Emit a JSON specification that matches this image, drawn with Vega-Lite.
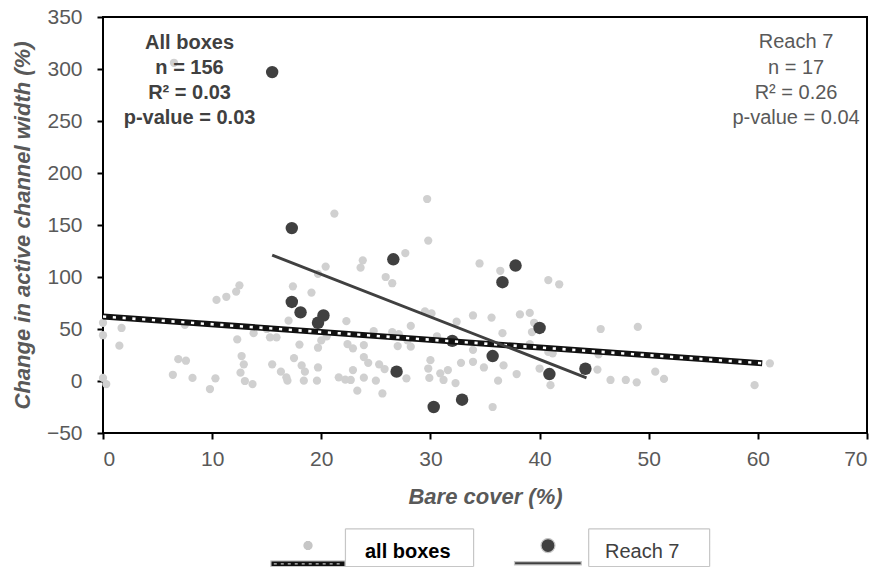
{
  "$schema": "https://vega.github.io/schema/vega-lite/v6.json",
  "width": 764,
  "height": 416,
  "autosize": {"type": "none"},
  "padding": {"left": 103, "top": 17, "right": 16, "bottom": 134},
  "background": "white",
  "config": {
    "view": {"stroke": "#000", "strokeWidth": 2},
    "font": "Liberation Sans",
    "axis": {
      "grid": false, "domain": false,
      "tickColor": "#000", "tickWidth": 2, "tickSize": 6,
      "labelColor": "#595959", "labelFontSize": 21, "labelFont": "Liberation Sans",
      "titleColor": "#595959", "titleFontSize": 22, "titleFontWeight": "bold", "titleFontStyle": "italic", "titleFont": "Liberation Sans"
    }
  },
  "datasets": {
    "points": [
      {"bare": 6.5, "change": 306, "series": "all boxes"},
      {"bare": 21.2, "change": 161, "series": "all boxes"},
      {"bare": 20.4, "change": 110, "series": "all boxes"},
      {"bare": 19.7, "change": 103, "series": "all boxes"},
      {"bare": 17.4, "change": 91, "series": "all boxes"},
      {"bare": 19.1, "change": 85, "series": "all boxes"},
      {"bare": 12.5, "change": 92, "series": "all boxes"},
      {"bare": 12.2, "change": 86, "series": "all boxes"},
      {"bare": 11.3, "change": 81, "series": "all boxes"},
      {"bare": 10.4, "change": 78, "series": "all boxes"},
      {"bare": 29.7, "change": 175, "series": "all boxes"},
      {"bare": 29.8, "change": 135, "series": "all boxes"},
      {"bare": 27.7, "change": 123, "series": "all boxes"},
      {"bare": 23.8, "change": 116, "series": "all boxes"},
      {"bare": 23.6, "change": 109, "series": "all boxes"},
      {"bare": 25.9, "change": 100, "series": "all boxes"},
      {"bare": 26.5, "change": 94, "series": "all boxes"},
      {"bare": 34.5, "change": 113, "series": "all boxes"},
      {"bare": 36.4, "change": 106, "series": "all boxes"},
      {"bare": 40.8, "change": 97, "series": "all boxes"},
      {"bare": 41.8, "change": 93, "series": "all boxes"},
      {"bare": 0, "change": 56, "series": "all boxes"},
      {"bare": 0, "change": 44, "series": "all boxes"},
      {"bare": 1.7, "change": 51, "series": "all boxes"},
      {"bare": 1.5, "change": 34, "series": "all boxes"},
      {"bare": 7.5, "change": 54, "series": "all boxes"},
      {"bare": 12.3, "change": 40, "series": "all boxes"},
      {"bare": 13.8, "change": 46, "series": "all boxes"},
      {"bare": 15.0, "change": 50, "series": "all boxes"},
      {"bare": 15.3, "change": 42, "series": "all boxes"},
      {"bare": 15.9, "change": 42, "series": "all boxes"},
      {"bare": 12.7, "change": 24, "series": "all boxes"},
      {"bare": 12.9, "change": 16, "series": "all boxes"},
      {"bare": 12.6, "change": 8, "series": "all boxes"},
      {"bare": 13.0, "change": 0, "series": "all boxes"},
      {"bare": 13.7, "change": -3, "series": "all boxes"},
      {"bare": 6.9, "change": 21, "series": "all boxes"},
      {"bare": 7.6, "change": 19.5, "series": "all boxes"},
      {"bare": 6.4, "change": 6, "series": "all boxes"},
      {"bare": 8.2, "change": 3, "series": "all boxes"},
      {"bare": 10.3, "change": 2.6, "series": "all boxes"},
      {"bare": 9.8, "change": -7.7, "series": "all boxes"},
      {"bare": 0, "change": 3, "series": "all boxes"},
      {"bare": 0.3, "change": -3, "series": "all boxes"},
      {"bare": 17.0, "change": 58, "series": "all boxes"},
      {"bare": 18.0, "change": 35, "series": "all boxes"},
      {"bare": 17.5, "change": 22, "series": "all boxes"},
      {"bare": 18.2, "change": 15, "series": "all boxes"},
      {"bare": 18.5, "change": 9, "series": "all boxes"},
      {"bare": 18.4, "change": 0.3, "series": "all boxes"},
      {"bare": 15.5, "change": 16, "series": "all boxes"},
      {"bare": 16.3, "change": 9, "series": "all boxes"},
      {"bare": 16.8, "change": 3.5, "series": "all boxes"},
      {"bare": 16.9, "change": 0.3, "series": "all boxes"},
      {"bare": 19.7, "change": 13, "series": "all boxes"},
      {"bare": 19.7, "change": 32, "series": "all boxes"},
      {"bare": 20.0, "change": 39, "series": "all boxes"},
      {"bare": 20.5, "change": 43, "series": "all boxes"},
      {"bare": 19.6, "change": 0.3, "series": "all boxes"},
      {"bare": 21.6, "change": 3.5, "series": "all boxes"},
      {"bare": 22.2, "change": 1.3, "series": "all boxes"},
      {"bare": 22.3, "change": 57.5, "series": "all boxes"},
      {"bare": 22.4, "change": 35.5, "series": "all boxes"},
      {"bare": 24.8, "change": 48, "series": "all boxes"},
      {"bare": 26.5, "change": 47, "series": "all boxes"},
      {"bare": 27.1, "change": 45, "series": "all boxes"},
      {"bare": 28.2, "change": 53, "series": "all boxes"},
      {"bare": 29.5, "change": 67, "series": "all boxes"},
      {"bare": 30.1, "change": 65, "series": "all boxes"},
      {"bare": 32.4, "change": 57, "series": "all boxes"},
      {"bare": 33.9, "change": 63, "series": "all boxes"},
      {"bare": 35.6, "change": 61, "series": "all boxes"},
      {"bare": 38.2, "change": 64, "series": "all boxes"},
      {"bare": 39.1, "change": 65.5, "series": "all boxes"},
      {"bare": 39.5, "change": 56, "series": "all boxes"},
      {"bare": 39.3, "change": 47, "series": "all boxes"},
      {"bare": 36.6, "change": 46, "series": "all boxes"},
      {"bare": 30.6, "change": 43, "series": "all boxes"},
      {"bare": 22.9, "change": 31.4, "series": "all boxes"},
      {"bare": 23.9, "change": 34.5, "series": "all boxes"},
      {"bare": 23.9, "change": 23, "series": "all boxes"},
      {"bare": 24.3, "change": 17.5, "series": "all boxes"},
      {"bare": 25.3, "change": 16, "series": "all boxes"},
      {"bare": 25.8, "change": 11.5, "series": "all boxes"},
      {"bare": 22.9, "change": 10.5, "series": "all boxes"},
      {"bare": 22.7, "change": 1, "series": "all boxes"},
      {"bare": 23.9, "change": 3.2, "series": "all boxes"},
      {"bare": 25.0, "change": 0.3, "series": "all boxes"},
      {"bare": 23.3, "change": -9.3, "series": "all boxes"},
      {"bare": 25.6, "change": -12, "series": "all boxes"},
      {"bare": 27.8, "change": 2.6, "series": "all boxes"},
      {"bare": 27.0, "change": 33.6, "series": "all boxes"},
      {"bare": 28.2, "change": 33, "series": "all boxes"},
      {"bare": 27.9, "change": 39, "series": "all boxes"},
      {"bare": 30.0, "change": 20, "series": "all boxes"},
      {"bare": 29.8, "change": 12, "series": "all boxes"},
      {"bare": 29.9, "change": 3, "series": "all boxes"},
      {"bare": 30.9, "change": 7.4, "series": "all boxes"},
      {"bare": 31.6, "change": 10.5, "series": "all boxes"},
      {"bare": 31.2, "change": 1, "series": "all boxes"},
      {"bare": 32.3, "change": -2, "series": "all boxes"},
      {"bare": 32.8, "change": 17.5, "series": "all boxes"},
      {"bare": 33.9, "change": 18.5, "series": "all boxes"},
      {"bare": 33.9, "change": 30, "series": "all boxes"},
      {"bare": 34.9, "change": 13, "series": "all boxes"},
      {"bare": 36.2, "change": 0.3, "series": "all boxes"},
      {"bare": 36.7, "change": 15, "series": "all boxes"},
      {"bare": 37.9, "change": 6.7, "series": "all boxes"},
      {"bare": 35.7, "change": -25, "series": "all boxes"},
      {"bare": 39.1, "change": 35.5, "series": "all boxes"},
      {"bare": 40.8, "change": 28, "series": "all boxes"},
      {"bare": 41.2, "change": 26.6, "series": "all boxes"},
      {"bare": 40.0, "change": 12, "series": "all boxes"},
      {"bare": 41.0, "change": -4, "series": "all boxes"},
      {"bare": 45.6, "change": 50, "series": "all boxes"},
      {"bare": 49.0, "change": 52, "series": "all boxes"},
      {"bare": 45.4, "change": 25.6, "series": "all boxes"},
      {"bare": 45.3, "change": 11, "series": "all boxes"},
      {"bare": 46.5, "change": 1, "series": "all boxes"},
      {"bare": 47.9, "change": 1, "series": "all boxes"},
      {"bare": 48.9, "change": -1.3, "series": "all boxes"},
      {"bare": 50.6, "change": 9, "series": "all boxes"},
      {"bare": 51.4, "change": 2, "series": "all boxes"},
      {"bare": 59.7, "change": -4, "series": "all boxes"},
      {"bare": 61.1, "change": 17, "series": "all boxes"},
      {"bare": 15.5, "change": 297, "series": "Reach 7"},
      {"bare": 17.3, "change": 147, "series": "Reach 7"},
      {"bare": 26.6, "change": 117, "series": "Reach 7"},
      {"bare": 37.8, "change": 111, "series": "Reach 7"},
      {"bare": 36.6, "change": 95, "series": "Reach 7"},
      {"bare": 17.3, "change": 76, "series": "Reach 7"},
      {"bare": 18.1, "change": 66, "series": "Reach 7"},
      {"bare": 20.2, "change": 63, "series": "Reach 7"},
      {"bare": 19.7, "change": 56, "series": "Reach 7"},
      {"bare": 40.0, "change": 51, "series": "Reach 7"},
      {"bare": 32.0, "change": 38.6, "series": "Reach 7"},
      {"bare": 35.7, "change": 24, "series": "Reach 7"},
      {"bare": 26.9, "change": 9, "series": "Reach 7"},
      {"bare": 40.9, "change": 6.7, "series": "Reach 7"},
      {"bare": 44.2, "change": 11.8, "series": "Reach 7"},
      {"bare": 30.3, "change": -25, "series": "Reach 7"},
      {"bare": 32.9, "change": -18, "series": "Reach 7"}
    ],
    "lines": [
      {"bare": 0, "change": 62, "series": "all boxes"},
      {"bare": 60.4, "change": 17, "series": "all boxes"},
      {"bare": 15.5, "change": 121, "series": "Reach 7"},
      {"bare": 44.3, "change": 3, "series": "Reach 7"}
    ],
    "notes": [
      {"bare": 7.93, "change": 325, "label": "All boxes", "side": "left"},
      {"bare": 7.93, "change": 301, "label": "n = 156", "side": "left"},
      {"bare": 7.93, "change": 277, "label": "R² = 0.03", "side": "left"},
      {"bare": 7.93, "change": 253, "label": "p-value = 0.03", "side": "left"},
      {"bare": 63.5, "change": 326, "label": "Reach 7", "side": "right"},
      {"bare": 63.5, "change": 301, "label": "n = 17", "side": "right"},
      {"bare": 63.5, "change": 277, "label": "R² = 0.26", "side": "right"},
      {"bare": 63.5, "change": 253, "label": "p-value = 0.04", "side": "right"}
    ]
  },
  "encoding": {
    "x": {
      "field": "bare", "type": "quantitative",
      "scale": {"domain": [0, 70], "nice": false, "zero": false},
      "axis": {"title": "Bare cover (%)", "values": [0, 10, 20, 30, 40, 50, 60, 70], "labelPadding": 9, "titlePadding": 17}
    },
    "y": {
      "field": "change", "type": "quantitative",
      "scale": {"domain": [-50, 350], "nice": false, "zero": false},
      "axis": {"title": "Change in active channel width (%)", "values": [-50, 0, 50, 100, 150, 200, 250, 300, 350], "labelPadding": 15, "titlePadding": 12}
    }
  },
  "layer": [
    {
      "data": {"values": [{}]},
      "mark": {"type": "rule", "color": "#a6a6a6", "strokeDash": [3, 2], "strokeWidth": 1.5},
      "encoding": {"x": {"datum": 0}, "x2": {"datum": 70}, "y": {"datum": 0}}
    },
    {
      "data": {"name": "points"},
      "transform": [{"filter": "datum.series === 'all boxes'"}],
      "mark": {"type": "circle", "opacity": 1, "strokeWidth": 0, "size": 68, "color": "#d0d0d0"}
    },
    {
      "data": {"name": "points"},
      "transform": [{"filter": "datum.series === 'Reach 7'"}],
      "mark": {"type": "circle", "opacity": 1, "strokeWidth": 0, "size": 155},
      "encoding": {
        "color": {
          "field": "series", "type": "nominal",
          "scale": {"domain": ["all boxes", "Reach 7"], "range": ["#111111", "#404040"]},
          "legend": {
            "orient": "none", "legendX": 168, "legendY": 497.5, "direction": "horizontal", "title": null,
            "symbolSize": 5184, "symbolStrokeWidth": 1.2, "labelFontSize": 20, "labelFont": "Liberation Sans", "labelOffset": 20,
            "columnPadding": 35, "padding": 0, "labelLimit": 300,
            "encoding": {
              "symbols": {
                "shape": {"value": {"expr": "datum.value === 'all boxes' ? 'M-0.063,-0.291L0.063,-0.291M-0.097,-0.263L0.097,-0.263M-0.115,-0.236L0.115,-0.236M-0.125,-0.208L0.125,-0.208M-0.128,-0.18L0.128,-0.18M-0.125,-0.152L0.125,-0.152M-0.115,-0.124L0.115,-0.124M-0.097,-0.097L0.097,-0.097M-0.063,-0.069L0.063,-0.069M-1.03,0.249L1.03,0.249L1.03,0.407L-1.03,0.407ZM-0.95,0.328L-0.867,0.328M-0.756,0.328L-0.673,0.328M-0.562,0.328L-0.479,0.328M-0.368,0.328L-0.285,0.328M-0.174,0.328L-0.091,0.328M0.02,0.328L0.103,0.328M0.214,0.328L0.297,0.328M0.408,0.328L0.491,0.328M0.602,0.328L0.685,0.328M0.796,0.328L0.879,0.328M1.04,-0.644L4.6,-0.644M4.6,-0.644L4.6,0.403M4.6,0.403L1.04,0.403M1.04,0.403L1.04,-0.644' : 'M0.194,-0.18C0.194,-0.073 0.107,0.014 0,0.014C-0.107,0.014 -0.194,-0.073 -0.194,-0.18C-0.194,-0.287 -0.107,-0.374 0,-0.374C0.107,-0.374 0.194,-0.287 0.194,-0.18ZM-0.93,0.265L0.925,0.265L0.925,0.357L-0.93,0.357ZM1.13,-0.644L4.49,-0.644M4.49,-0.644L4.49,0.403M4.49,0.403L1.13,0.403M1.13,0.403L1.13,-0.644'"}},
                "size": {"value": 5184},
                "stroke": {"value": "#c6c6c6"},
                "strokeWidth": {"value": 1.2},
                "opacity": {"value": 1}
              },
              "labels": {
                "fontWeight": {"value": {"expr": "datum.value === 'all boxes' ? 'bold' : 'normal'"}},
                "fill": {"value": {"expr": "datum.value === 'all boxes' ? '#000000' : '#404040'"}}
              }
            }
          }
        }
      }
    },
    {
      "data": {"name": "lines"},
      "transform": [{"filter": "datum.series === 'all boxes'"}],
      "mark": {"type": "line", "color": "#111111", "strokeWidth": 6, "strokeCap": "butt"}
    },
    {
      "data": {"name": "lines"},
      "transform": [{"filter": "datum.series === 'all boxes'"}],
      "mark": {"type": "line", "color": "#ffffff", "strokeWidth": 2.6, "strokeDash": [3.2, 6.6], "strokeCap": "butt"}
    },
    {
      "data": {"name": "lines"},
      "transform": [{"filter": "datum.series === 'Reach 7'"}],
      "mark": {"type": "line", "color": "#404040", "strokeWidth": 3}
    },
    {
      "data": {"name": "notes"},
      "transform": [{"filter": "datum.side === 'left'"}],
      "mark": {"type": "text", "fontSize": 20, "fontWeight": "bold", "color": "#404040", "align": "center", "baseline": "middle"},
      "encoding": {"text": {"field": "label", "type": "nominal"}}
    },
    {
      "data": {"name": "notes"},
      "transform": [{"filter": "datum.side === 'right'"}],
      "mark": {"type": "text", "fontSize": 20, "color": "#595959", "align": "center", "baseline": "middle"},
      "encoding": {"text": {"field": "label", "type": "nominal"}}
    }
  ]
}
